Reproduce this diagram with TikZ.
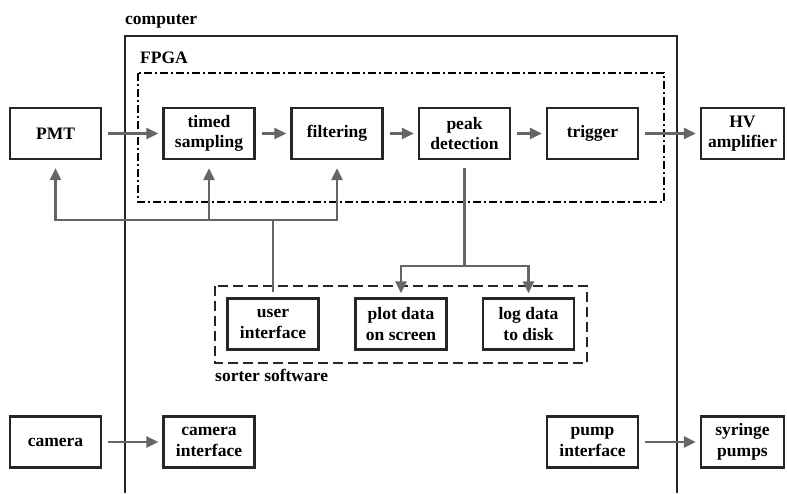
\documentclass[tikz,border=0pt]{standalone}
\usepackage{fontspec}
\setmainfont{Liberation Serif}
\usetikzlibrary{calc}
\usetikzlibrary{arrows.meta}
\definecolor{boxline}{HTML}{262626}
\definecolor{wire}{HTML}{666666}

\begin{document}
\begin{tikzpicture}[
		x=1pt, y=-1pt,
		>={Triangle[length=12pt,width=11pt]},
		block/.style={draw=boxline,line width=2.2pt,minimum width=91pt,minimum height=51pt,
			inner sep=0pt,align=center,font=\fontsize{17.5}{20.5}\selectfont\bfseries},
		flow/.style={draw=wire,line width=2.4pt},
		pass/.style={flow,->,shorten <=6pt,shorten >=4pt},
		tag/.style={anchor=west,inner sep=0pt,font=\fontsize{17.5}{21}\selectfont\bfseries},
	]
	\useasboundingbox (0,0) rectangle (787,493);
	% enclosures
	\draw[boxline,line width=2.2pt] (125,493) |- (677,36) -- (677,493);
	\draw[black,line width=1.8pt,dash pattern=on 8pt off 3pt on 2pt off 3pt] (138,73) rectangle (664,202);
	\draw[boxline,line width=2.2pt,dash pattern=on 10pt off 5pt] (215,286) rectangle (587,363);
	\node[tag] (computer) at (125,21) {computer};
	\node[tag] (fpga) at (140,58) {FPGA};
	\node[tag] (sorter) at (215,375) {sorter software};
	% signal chain
	\node[block] (pmt) at (55.5,133.5) {PMT};
	\node[block] (samp) at (209,133.5) {timed\\sampling};
	\node[block] (filt) at (337,133.5) {filtering};
	\node[block] (peak) at (464.5,133.5) {peak\\detection};
	\node[block] (trig) at (592.5,133.5) {trigger};
	\node[block,minimum width=83pt] (hv) at (742.5,133.5) {HV\\amplifier};
	% software
	\node[block] (ui) at (273,324) {user\\interface};
	\node[block] (plot) at (401,324) {plot data\\on screen};
	\node[block] (log) at (528.5,324) {log data\\to disk};
	% peripherals
	\node[block] (cam) at (55.5,442) {camera};
	\node[block] (camif) at (209,442) {camera\\interface};
	\node[block] (pumpif) at (592.5,442) {pump\\interface};
	\node[block,minimum width=83pt] (pumps) at (742.5,442) {syringe\\pumps};
	\draw[pass] (pmt) -- (samp);
	\draw[pass] (samp) -- (filt);
	\draw[pass] (filt) -- (peak);
	\draw[pass] (peak) -- (trig);
	\draw[pass] (trig) -- (hv);
	\draw[pass] (cam) -- (camif);
	\draw[pass] (pumpif) -- (pumps);
	% user settings back to the chain
	\coordinate (fb) at (273,220);
	\draw[flow] ([yshift=5pt]ui.north) -- (fb);
	\draw[flow,->] (fb) -| ([yshift=-8pt]pmt.south);
	\draw[flow,->] (fb) -| ([yshift=-8pt]filt.south);
	\draw[flow,->] (fb -| samp.south) -- ([yshift=-8pt]samp.south);
	% peaks out to the software
	\coordinate (split) at (464.5,266);
	\draw[flow] ([yshift=-8pt]peak.south) -- (split);
	\draw[flow,->] (split) -| ([yshift=4pt]plot.north);
	\draw[flow,->] (split) -| ([yshift=4pt]log.north);
\end{tikzpicture}
\end{document}
